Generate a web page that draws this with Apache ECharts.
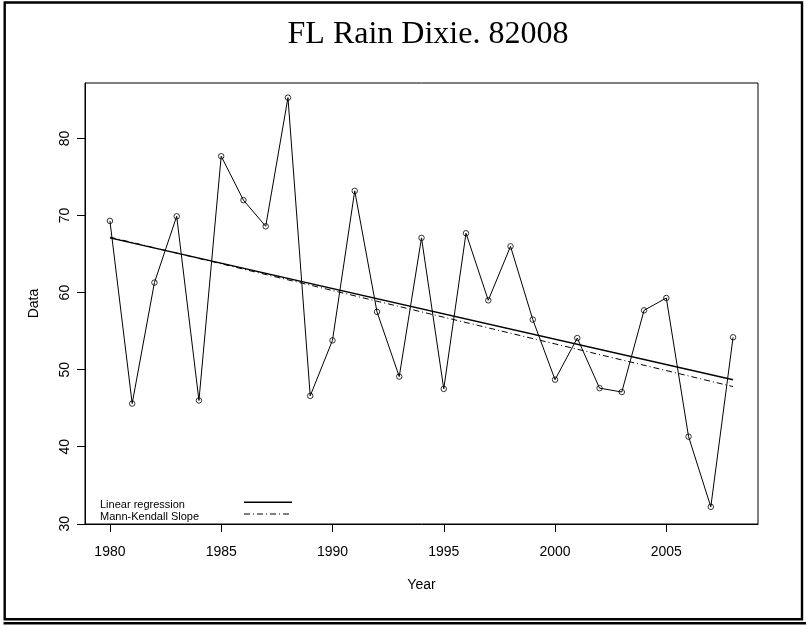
<!DOCTYPE html>
<html>
<head>
<meta charset="utf-8">
<script src="https://cdn.jsdelivr.net/npm/echarts@6/dist/echarts.min.js"></script>
<style>html,body{margin:0;padding:0;background:#fff;}#chart{width:806px;height:626px;}</style>
</head>
<body>
<div id="chart"></div>
<script>
const titleText = 'FL Rain Dixie. 82008';
const years = [1980,1981,1982,1983,1984,1985,1986,1987,1988,1989,1990,1991,1992,1993,1994,1995,1996,1997,1998,1999,2000,2001,2002,2003,2004,2005,2006,2007,2008];
const rain = [69.3,45.6,61.3,69.9,46.0,77.7,72.0,68.6,85.3,46.6,53.8,73.2,57.5,49.1,67.1,47.5,67.7,59.0,66.0,56.5,48.7,54.1,47.6,47.1,57.7,59.3,41.3,32.2,54.2];
const regYears = [1980, 2008];
const regValues = [67.1, 48.7];
const mkYears = [1980, 2008];
const mkValues = [67.2, 47.8];
const xTicks = [1980,1985,1990,1995,2000,2005];
const yTicks = [30,40,50,60,70,80];
const legendNames = ['Linear regression', 'Mann-Kendall Slope'];

const chart = echarts.init(document.getElementById('chart'), null, {renderer: 'canvas'});
const FONT = 'Liberation Sans, Arial, sans-serif';
const option = {
  backgroundColor: '#fff',
  animation: false,
  grid: {left: 85, right: 48, top: 83, bottom: 102, show: true, borderColor: '#000', borderWidth: 1, backgroundColor: 'transparent'},
  xAxis: {
    type: 'value', min: 1978.88, max: 2009.12,
    name: 'Year', nameLocation: 'middle', nameGap: 54,
    nameTextStyle: {fontFamily: FONT, fontSize: 14, color: '#000'},
    axisLine: {show: true, onZero: false, lineStyle: {color: '#000', width: 1}},
    axisTick: {show: true, length: 8, lineStyle: {color: '#000'}, customValues: xTicks},
    axisLabel: {show: true, margin: 21, fontFamily: FONT, fontSize: 14, color: '#000', customValues: xTicks, formatter: v => String(v)},
    splitLine: {show: false}
  },
  yAxis: {
    type: 'value', min: 29.97, max: 87.2,
    name: 'Data', nameLocation: 'middle', nameGap: 44,
    nameTextStyle: {fontFamily: FONT, fontSize: 14, color: '#000'},
    axisLine: {show: true, onZero: false, lineStyle: {color: '#000', width: 1}},
    axisTick: {show: true, length: 8, lineStyle: {color: '#000'}, customValues: yTicks},
    axisLabel: {show: true, rotate: 90, margin: 13, fontFamily: FONT, fontSize: 14, color: '#000', customValues: yTicks, formatter: v => String(v)},
    splitLine: {show: false}
  },
  series: [
    {
      type: 'line', name: 'Data',
      data: years.map((y, i) => [y, rain[i]]),
      symbol: 'circle', symbolSize: 5.5,
      itemStyle: {color: 'rgba(255,255,255,0)', borderColor: '#000', borderWidth: 0.8},
      lineStyle: {color: '#000', width: 1},
      z: 3
    },
    {
      type: 'line', name: legendNames[0],
      data: regYears.map((y, i) => [y, regValues[i]]),
      symbol: 'none',
      lineStyle: {color: '#000', width: 1.5}
    },
    {
      type: 'line', name: legendNames[1],
      data: mkYears.map((y, i) => [y, mkValues[i]]),
      symbol: 'none',
      lineStyle: {color: '#000', width: 1, type: [6, 3, 1, 3]}
    }
  ],
  graphic: [
    {type: 'rect', shape: {x: 4.7, y: 2.5, width: 797.3, height: 616.7}, style: {fill: 'none', stroke: '#000', lineWidth: 2.4}, silent: true},
    {type: 'line', shape: {x1: 3.5, y1: 623.2, x2: 806, y2: 623.2}, style: {stroke: '#000', lineWidth: 2.4}, silent: true},
    {type: 'text', x: 428, y: 35, style: {text: titleText, font: '32px "Liberation Serif", "Times New Roman", serif', fill: '#000', textAlign: 'center', textVerticalAlign: 'middle'}},
    {type: 'text', x: 100, y: 505, style: {text: legendNames[0], font: '11px ' + FONT, fill: '#000', textAlign: 'left', textVerticalAlign: 'middle'}},
    {type: 'text', x: 100, y: 517, style: {text: legendNames[1], font: '11px ' + FONT, fill: '#000', textAlign: 'left', textVerticalAlign: 'middle'}},
    {type: 'line', shape: {x1: 244, y1: 502.3, x2: 292, y2: 502.3}, style: {stroke: '#000', lineWidth: 1.5}},
    {type: 'line', shape: {x1: 244, y1: 514, x2: 292, y2: 514}, style: {stroke: '#000', lineWidth: 1, lineDash: [6, 3, 1, 3]}}
  ]
};
chart.setOption(option);
</script>
</body>
</html>
